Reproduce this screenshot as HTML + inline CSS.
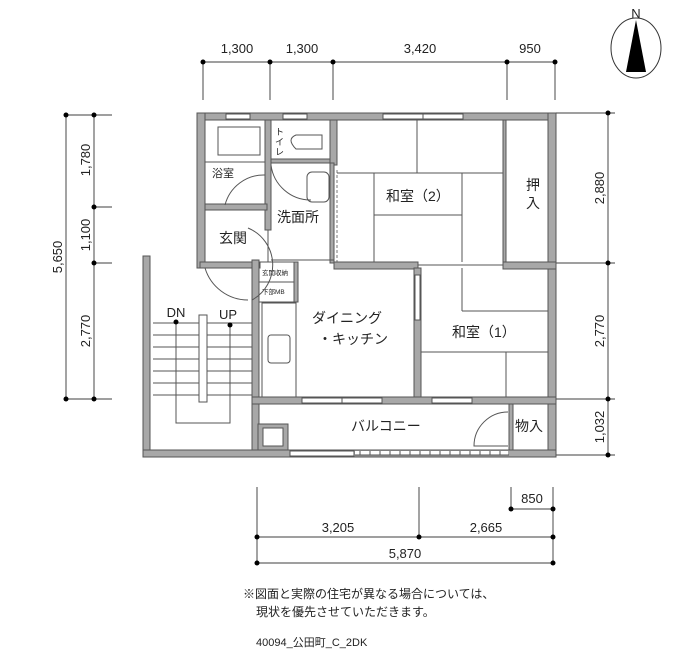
<!DOCTYPE html>
<html><head><meta charset="utf-8"><style>
html,body{margin:0;padding:0;background:#fff;}
svg{display:block;font-family:"Liberation Sans","Noto Sans CJK JP",sans-serif;}
.w{fill:#a8a8a8;stroke:#555;stroke-width:1}
.l{stroke:#555;stroke-width:1;fill:none}
.d{stroke:#666;stroke-width:1.2;fill:none}
.t{font-size:13px;fill:#222}
.r{font-size:14px;fill:#222}
</style></head><body>
<svg width="700" height="650" viewBox="0 0 700 650">
<!-- top dims -->
<line class="d" x1="203" y1="62" x2="555" y2="62"/>
<g class="d"><line x1="203" y1="62" x2="203" y2="100"/><line x1="270" y1="62" x2="270" y2="100"/><line x1="333" y1="62" x2="333" y2="100"/><line x1="507" y1="62" x2="507" y2="100"/><line x1="555" y1="62" x2="555" y2="100"/></g>
<g fill="#000"><circle cx="203" cy="62" r="2.5"/><circle cx="270" cy="62" r="2.5"/><circle cx="333" cy="62" r="2.5"/><circle cx="507" cy="62" r="2.5"/><circle cx="555" cy="62" r="2.5"/></g>
<g class="t" text-anchor="middle"><text x="237" y="53">1,300</text><text x="302" y="53">1,300</text><text x="420" y="53">3,420</text><text x="530" y="53">950</text></g>
<!-- compass -->
<ellipse cx="636" cy="48" rx="25" ry="30" fill="none" stroke="#333"/>
<polygon points="636,20 626,72 646,72" fill="#000"/>
<text x="636" y="18" class="t" text-anchor="middle" font-size="14">N</text>
<!-- left dims -->
<line class="d" x1="66" y1="115" x2="66" y2="399"/>
<line class="d" x1="94" y1="115" x2="94" y2="399"/>
<g class="d"><line x1="66" y1="115" x2="112" y2="115"/><line x1="94" y1="207" x2="112" y2="207"/><line x1="94" y1="263" x2="112" y2="263"/><line x1="66" y1="399" x2="112" y2="399"/></g>
<g fill="#000"><circle cx="66" cy="115" r="2.5"/><circle cx="94" cy="115" r="2.5"/><circle cx="94" cy="207" r="2.5"/><circle cx="94" cy="263" r="2.5"/><circle cx="66" cy="399" r="2.5"/><circle cx="94" cy="399" r="2.5"/></g>
<g class="t" text-anchor="middle">
<text transform="translate(62,257) rotate(-90)">5,650</text>
<text transform="translate(90,160) rotate(-90)">1,780</text>
<text transform="translate(90,235) rotate(-90)">1,100</text>
<text transform="translate(90,331) rotate(-90)">2,770</text>
</g>
<!-- right dims -->
<line class="d" x1="608" y1="113" x2="608" y2="455"/>
<g class="d"><line x1="556" y1="113" x2="615" y2="113"/><line x1="556" y1="263" x2="615" y2="263"/><line x1="556" y1="399" x2="615" y2="399"/><line x1="556" y1="455" x2="615" y2="455"/></g>
<g fill="#000"><circle cx="608" cy="113" r="2.5"/><circle cx="608" cy="263" r="2.5"/><circle cx="608" cy="399" r="2.5"/><circle cx="608" cy="455" r="2.5"/></g>
<g class="t" text-anchor="middle">
<text transform="translate(604,188) rotate(-90)">2,880</text>
<text transform="translate(604,331) rotate(-90)">2,770</text>
<text transform="translate(604,427) rotate(-90)">1,032</text>
</g>
<!-- bottom dims -->
<g class="d"><line x1="257" y1="487" x2="257" y2="563"/><line x1="419" y1="487" x2="419" y2="537"/><line x1="553" y1="487" x2="553" y2="563"/><line x1="511" y1="487" x2="511" y2="509"/>
<line x1="511" y1="509" x2="553" y2="509"/><line x1="257" y1="537" x2="553" y2="537"/><line x1="257" y1="563" x2="553" y2="563"/></g>
<g fill="#000"><circle cx="511" cy="509" r="2.5"/><circle cx="553" cy="509" r="2.5"/><circle cx="257" cy="537" r="2.5"/><circle cx="419" cy="537" r="2.5"/><circle cx="553" cy="537" r="2.5"/><circle cx="257" cy="563" r="2.5"/><circle cx="553" cy="563" r="2.5"/></g>
<g class="t" text-anchor="middle"><text x="532" y="503">850</text><text x="338" y="532">3,205</text><text x="486" y="532">2,665</text><text x="405" y="558">5,870</text></g>
<text x="243" y="598" font-size="12" fill="#222">※図面と実際の住宅が異なる場合については、</text>
<text x="256" y="616" font-size="12" fill="#222">現状を優先させていただきます。</text>
<text x="256" y="646" font-size="11" fill="#222">40094_公田町_C_2DK</text>

<!-- walls -->
<rect class="w" x="197" y="113" width="359" height="7"/>
<rect class="w" x="197" y="113" width="8" height="155"/>
<rect class="w" x="548" y="113" width="8" height="344"/>
<rect class="w" x="143" y="256" width="7" height="201"/>
<rect class="w" x="143" y="450" width="413" height="7"/>
<g fill="#fff" stroke="#555"><rect x="226" y="114" width="24" height="5"/><rect x="283" y="114" width="24" height="5"/><rect x="383" y="114" width="40" height="5"/><rect x="423" y="114" width="40" height="5"/></g>
<!-- interior walls upper -->
<rect class="w" x="265" y="120" width="6" height="110"/>
<line class="l" x1="268" y1="230" x2="268" y2="262"/>
<rect class="w" x="205" y="204" width="62" height="6"/>
<rect class="w" x="271" y="159" width="62" height="4"/>
<rect class="w" x="330" y="120" width="7" height="45"/>
<rect class="w" x="330" y="163" width="4" height="100"/>
<line x1="337" y1="170" x2="337" y2="262" stroke="#777" stroke-dasharray="3,2"/>
<line class="l" x1="271" y1="260" x2="334" y2="260"/>
<rect class="w" x="503" y="120" width="3" height="148"/>
<rect class="w" x="334" y="262" width="84" height="7"/>
<rect class="w" x="200" y="262" width="60" height="6"/>
<rect class="w" x="503" y="262" width="53" height="7"/>
<line class="l" x1="418" y1="265" x2="503" y2="265"/>
<!-- DK left wall & closet -->
<rect class="w" x="252" y="260" width="7" height="190"/>
<rect class="l" x="259" y="262" width="35" height="40" fill="#fff"/>
<line class="l" x1="259" y1="282" x2="294" y2="282"/>
<text x="262" y="275" font-size="6.5" fill="#222">玄関収納</text>
<text x="262" y="294" font-size="6.5" fill="#222">下部MB</text>
<rect class="w" x="294" y="262" width="4" height="40"/>
<rect class="l" x="262" y="303" width="34" height="94"/>
<rect class="l" x="268" y="335" width="22" height="28" rx="3"/>
<rect class="w" x="414" y="268" width="7" height="132"/>
<rect fill="#fff" stroke="#555" x="415" y="275" width="5" height="45"/>
<rect class="w" x="252" y="397" width="304" height="7"/>
<g fill="#fff" stroke="#555"><rect x="302" y="398" width="40" height="5"/><rect x="342" y="398" width="40" height="5"/><rect x="432" y="398" width="40" height="5"/></g>
<rect class="w" x="509" y="404" width="4" height="46"/>
<rect class="w" x="258" y="424" width="30" height="26"/>
<rect fill="#fff" stroke="#555" x="263" y="428" width="20" height="18"/>
<rect fill="#fff" stroke="#555" x="290" y="451" width="64" height="5"/>
<rect fill="#fff" x="355" y="451" width="153" height="4"/>
<g stroke="#555"><line x1="355" y1="450" x2="509" y2="450"/><line x1="355" y1="455" x2="509" y2="455"/>
<line x1="360" y1="451" x2="360" y2="455"/><line x1="370" y1="451" x2="370" y2="455"/><line x1="380" y1="451" x2="380" y2="455"/><line x1="390" y1="451" x2="390" y2="455"/><line x1="400" y1="451" x2="400" y2="455"/><line x1="410" y1="451" x2="410" y2="455"/><line x1="420" y1="451" x2="420" y2="455"/><line x1="430" y1="451" x2="430" y2="455"/><line x1="440" y1="451" x2="440" y2="455"/><line x1="450" y1="451" x2="450" y2="455"/><line x1="460" y1="451" x2="460" y2="455"/><line x1="470" y1="451" x2="470" y2="455"/><line x1="480" y1="451" x2="480" y2="455"/><line x1="490" y1="451" x2="490" y2="455"/><line x1="500" y1="451" x2="500" y2="455"/></g>
<path class="l" d="M508,412 A34,34 0 0 0 474,446 L508,446"/>
<!-- fixtures -->
<rect class="l" x="218" y="127" width="42" height="28"/>
<line class="l" x1="205" y1="162" x2="265" y2="162"/>
<path class="l" d="M296,135 q-10,4 0,14 h26 v-14 z"/>
<rect class="l" x="307" y="172" width="22" height="30" rx="5"/>
<g class="l">
<line x1="337" y1="173" x2="503" y2="173"/>
<line x1="417" y1="120" x2="417" y2="173"/>
<line x1="374" y1="173" x2="374" y2="262"/>
<line x1="462" y1="173" x2="462" y2="262"/>
<line x1="374" y1="215" x2="462" y2="215"/>
<line x1="462" y1="268" x2="462" y2="311"/>
<line x1="462" y1="311" x2="548" y2="311"/>
<line x1="421" y1="352" x2="548" y2="352"/>
<line x1="506" y1="352" x2="506" y2="397"/>
</g>
<path class="l" d="M265,175 A40,40 0 0 0 225,205"/>
<path class="l" d="M271,165 A40,40 0 0 0 311,200"/>
<path class="l" d="M248,228 A40,40 0 0 1 252,300 M205,268 A45,45 0 0 0 248,300"/>
<g class="l">
<line x1="153" y1="323" x2="252" y2="323"/><line x1="153" y1="335" x2="252" y2="335"/><line x1="153" y1="347" x2="252" y2="347"/><line x1="153" y1="359" x2="252" y2="359"/><line x1="153" y1="371" x2="252" y2="371"/><line x1="153" y1="383" x2="252" y2="383"/><line x1="153" y1="395" x2="252" y2="395"/>
<polyline points="176,322 176,423 230,423 230,325"/>
</g>
<rect x="199" y="315" width="8" height="87" fill="#fff" stroke="#555"/>
<circle cx="176" cy="322" r="2.5"/><circle cx="230" cy="325" r="2.5"/>
<text x="176" y="317" class="t" text-anchor="middle" font-size="12">DN</text>
<text x="228" y="319" class="t" text-anchor="middle" font-size="12">UP</text>
<g class="r">
<text x="212" y="177" font-size="11">浴室</text>
<text x="277" y="222">洗面所</text>
<text x="219" y="243">玄関</text>
<text x="386" y="201">和室（2）</text>
<text x="526" y="190">押</text><text x="526" y="208">入</text>
<text x="312" y="323">ダイニング</text>
<text x="318" y="344">・キッチン</text>
<text x="452" y="337">和室（1）</text>
<text x="351" y="431">バルコニー</text>
<text x="515" y="431">物入</text>
<text x="275" y="135" font-size="9">ト</text><text x="275" y="145" font-size="9">イ</text><text x="275" y="155" font-size="9">レ</text>
</g>
</svg>
</body></html>
